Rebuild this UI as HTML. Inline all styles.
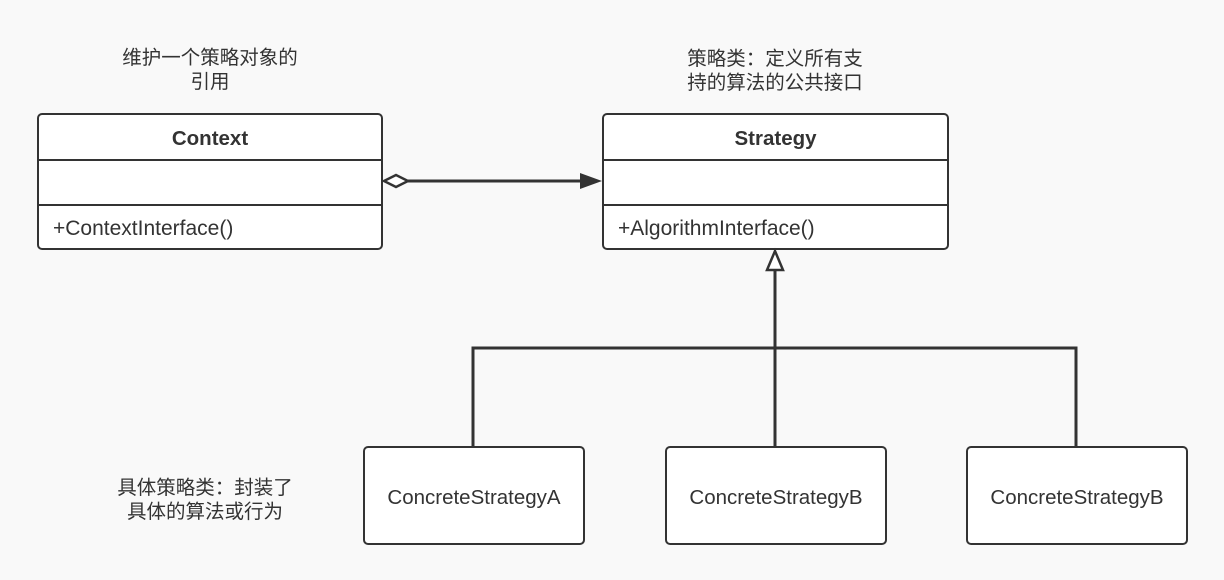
<!DOCTYPE html>
<html><head><meta charset="utf-8"><style>
body{margin:0;width:1224px;height:580px;background:#f9f9f9;position:relative;overflow:hidden;font-family:"Liberation Sans","Noto Sans CJK SC",sans-serif;color:#333}
.box{position:absolute;background:#fff;border:2px solid #333;border-radius:5px;box-sizing:border-box}
.t{position:absolute;text-align:center;font-size:19.5px;line-height:24px;color:#333}
.cls .h{height:44px;border-bottom:2px solid #333;text-align:center;line-height:48px;font-weight:bold;font-size:20.5px}
.cls .a{height:43px;border-bottom:2px solid #333}
.cls .m{line-height:46px;padding-left:14px;font-size:21px}
.c{display:flex;align-items:center;justify-content:center;font-size:20.5px;padding-top:4px}
</style></head><body>
<div class="t" style="left:100px;top:46px;width:220px">维护一个策略对象的<br>引用</div>
<div class="t" style="left:660px;top:47px;width:230px">策略类：定义所有支<br>持的算法的公共接口</div>
<div class="t" style="left:90px;top:476px;width:230px">具体策略类：封装了<br>具体的算法或行为</div>
<div class="box cls" style="left:37px;top:113px;width:346px;height:137px"><div class="h">Context</div><div class="a"></div><div class="m">+ContextInterface()</div></div>
<div class="box cls" style="left:602px;top:113px;width:347px;height:137px"><div class="h">Strategy</div><div class="a"></div><div class="m">+AlgorithmInterface()</div></div>
<div class="box c" style="left:363px;top:446px;width:222px;height:99px">ConcreteStrategyA</div>
<div class="box c" style="left:665px;top:446px;width:222px;height:99px">ConcreteStrategyB</div>
<div class="box c" style="left:966px;top:446px;width:222px;height:99px">ConcreteStrategyB</div>
<svg width="1224" height="580" style="position:absolute;left:0;top:0">
<g stroke="#333" stroke-width="3" fill="none">
<line x1="408" y1="181" x2="585" y2="181"/>
<polyline points="473,446 473,348 1076,348 1076,446"/>
<line x1="775" y1="270" x2="775" y2="446"/>
</g>
<polygon points="384,181 396,175 408,181 396,187" fill="#fff" stroke="#333" stroke-width="2.5"/>
<polygon points="602,181 580,173 580,189" fill="#333"/>
<polygon points="775,251 767,270 783,270" fill="#fff" stroke="#333" stroke-width="2.5"/>
</svg>
</body></html>
